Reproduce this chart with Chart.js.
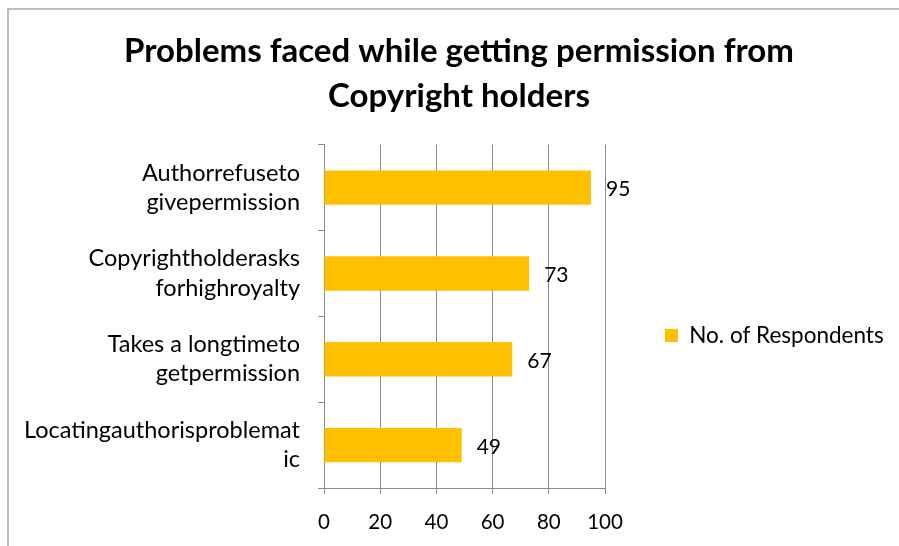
<!DOCTYPE html>
<html>
<head>
<meta charset="utf-8">
<script src="https://cdn.jsdelivr.net/npm/chart.js@4.4.1/dist/chart.umd.min.js"></script>
<style>
    body { margin: 0; background: #fff; }
    #wrap { width: 899px; height: 546px; position: relative; }
</style>
</head>
<body>
<div id="wrap"><canvas id="grafico-problemas" width="899" height="546"></canvas></div>
<script>
// categorias (quebradas em duas linhas como no relatório)
const categorias = [
    ["Authorrefuseto", "givepermission"],
    ["Copyrightholderasks", "forhighroyalty"],
    ["Takes a longtimeto", "getpermission"],
    ["Locatingauthorisproblemat", "ic"]
]
const respondentes = [95, 73, 67, 49]
const ticksX = [0, 20, 40, 60, 80, 100]
const tituloLinhas = ["Problems faced while getting permission from", "Copyright holders"]

const fonte = "Lato, 'Open Sans', sans-serif"
const cinza = "#8c8c8c"
const larguraLegenda = 294

// moldura cinza em volta do gráfico
const moldura = {
    id: 'moldura',
    beforeDraw(chart) {
        const ctx = chart.ctx
        ctx.save()
        ctx.strokeStyle = "#a6a6a6"
        ctx.lineWidth = 1.5
        ctx.strokeRect(8, 9, 1000, 1000)
        ctx.restore()
    }
}

// legenda mais larga que o limite padrão (1/4 da largura) e abaixo do título
const ajusteLegenda = {
    id: 'ajusteLegenda',
    beforeLayout(chart) {
        const legenda = chart.legend
        if (legenda && !legenda.fitPadrao) {
            legenda.fitPadrao = legenda.fit
            legenda.fit = function () {
                this.fitPadrao()
                this.width = larguraLegenda
            }
        }
    },
    afterLayout(chart) {
        chart.legend.top = chart.chartArea.top - 20
        chart.legend.bottom = chart.height
    }
}

// valores escritos à direita de cada barra
const rotulosValores = {
    id: 'rotulosValores',
    afterDatasetsDraw(chart) {
        const ctx = chart.ctx
        const meta = chart.getDatasetMeta(0)
        ctx.save()
        ctx.font = `21px ${fonte}`
        ctx.fillStyle = "#000"
        ctx.textAlign = "left"
        ctx.textBaseline = "middle"
        meta.data.forEach((bar, i) => {
            ctx.fillText(respondentes[i], bar.x + 15, bar.y + 2)
        })
        ctx.restore()
    }
}

let myChartProblemas = new Chart(
    document.getElementById("grafico-problemas"),
    {
        type: "bar",
        data: {
            labels: categorias,
            datasets: [{
                label: "No. of Respondents",
                data: respondentes,
                backgroundColor: "#FFC000",
                borderWidth: 0,
                categoryPercentage: 1,
                barPercentage: 0.4
            }]
        },
        options: {
            indexAxis: 'y',
            responsive: false,
            animation: false,
            devicePixelRatio: 1,
            layout: { padding: { left: 19, right: 0, top: 0, bottom: 0 } },
            scales: {
                x: {
                    min: 0,
                    max: 100,
                    afterBuildTicks: scale => {
                        scale.ticks = ticksX.map(v => ({ value: v }))
                    },
                    afterFit: scale => { scale.height = 58 },
                    grid: { color: cinza, tickLength: 6, lineWidth: 1 },
                    border: { color: cinza },
                    ticks: {
                        color: "#000",
                        padding: 16,
                        font: { family: fonte, size: 20.5 }
                    }
                },
                y: {
                    afterFit: scale => { scale.width = 305 },
                    grid: { color: cinza, drawOnChartArea: false, tickLength: 6, offset: true },
                    border: { color: cinza },
                    ticks: {
                        color: "#000",
                        padding: 18,
                        font: { family: fonte, size: 23.5, lineHeight: 1.24 }
                    }
                }
            },
            plugins: {
                title: {
                    display: true,
                    text: tituloLinhas,
                    color: "#000",
                    font: { family: fonte, size: 33, weight: "bold", lineHeight: 1.36 },
                    padding: { top: 29, bottom: 26 }
                },
                legend: {
                    position: "right",
                    labels: {
                        boxWidth: 13,
                        boxHeight: 13,
                        color: "#000",
                        padding: 60,
                        font: { family: fonte, size: 22.5 }
                    }
                },
                tooltip: { enabled: false }
            }
        },
        plugins: [moldura, ajusteLegenda, rotulosValores]
    }
)
</script>
</body>
</html>
